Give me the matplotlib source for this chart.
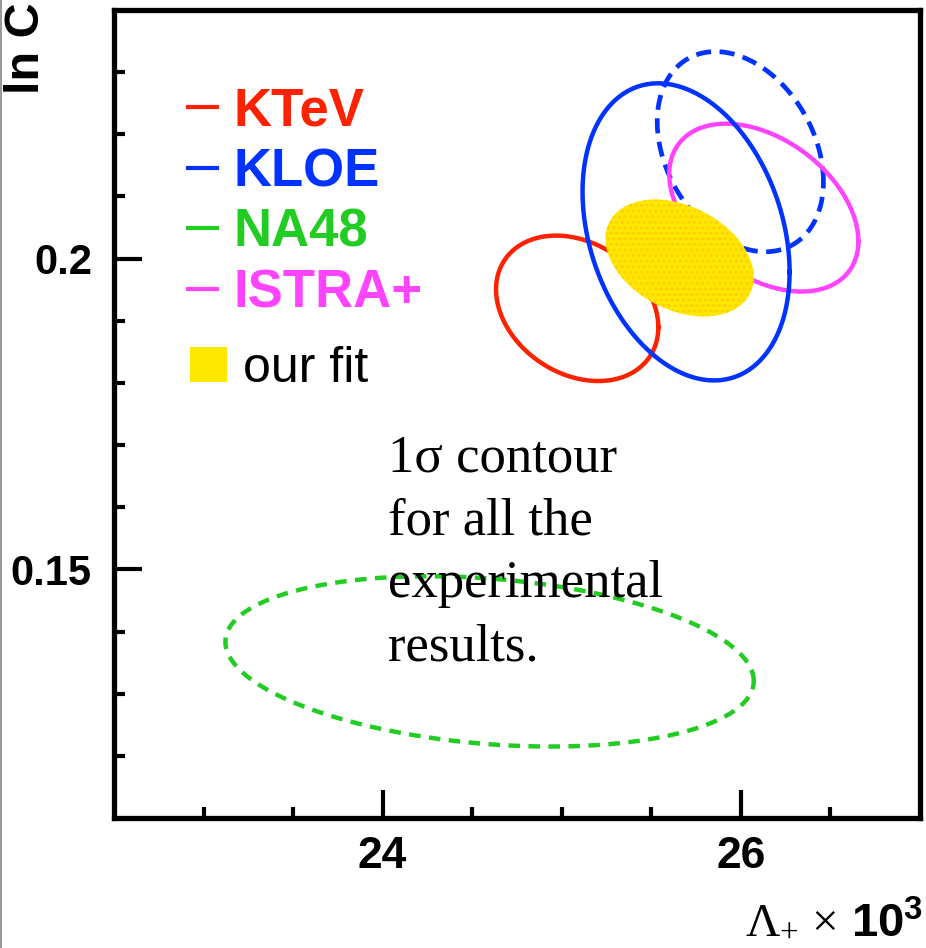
import matplotlib
matplotlib.use("Agg")
import matplotlib.pyplot as plt
import numpy as np
from matplotlib.lines import Line2D
from matplotlib.patches import Patch

# 1 sigma contours: centre, errors and correlation (Lambda_+ x 10^3, ln C)
exp_names = ["KTeV", "KLOE", "NA48", "ISTRA+"]
exp_colors = ["#ff2200", "#0033ff", "#22cc22", "#ff44ff"]
exp_styles = ["solid", "solid", "dashed", "solid"]
lam_center = [25.086, 25.694, 24.597, 26.128]
lam_sigma = [0.453, 0.578, 1.475, 0.528]
lnc_center = [0.1920, 0.2043, 0.1352, 0.2082]
lnc_sigma = [0.0117, 0.0239, 0.0137, 0.0135]
rho = [-0.26, -0.27, -0.23, -0.40]

# second KLOE contour (dashed blue)
kloe2 = dict(lam=25.997, lam_sig=0.464, lnc=0.2172, lnc_sig=0.0161, rho=-0.30)

# our fit
fit = dict(lam=25.658, lam_sig=0.414, lnc=0.2001, lnc_sig=0.0094, rho=-0.33)

note = "1\u03c3 contour\nfor all the\nexperimental\nresults."


def contour(cx, sx, cy, sy, r, n=400):
    t = np.linspace(0, 2 * np.pi, n)
    x = cx + sx * np.cos(t)
    y = cy + sy * (r * np.cos(t) + np.sqrt(1 - r ** 2) * np.sin(t))
    return x, y


plt.rcParams["font.family"] = ["Liberation Sans", "DejaVu Sans"]
plt.rcParams["mathtext.fontset"] = "custom"
plt.rcParams["mathtext.rm"] = "Liberation Serif"
plt.rcParams["mathtext.it"] = "Liberation Serif:italic"
plt.rcParams["mathtext.bf"] = "Liberation Sans:bold"
plt.rcParams["hatch.linewidth"] = 1.5

fig = plt.figure(figsize=(9.26, 9.48), dpi=100)
ax = fig.add_axes([0.1231, 0.1371, 0.8704, 0.8524])

# dashed KLOE contour
x, y = contour(kloe2["lam"], kloe2["lam_sig"], kloe2["lnc"], kloe2["lnc_sig"], kloe2["rho"])
ax.plot(x, y, color="#0033ff", lw=3.4, dashes=(3.2, 1.8), zorder=2)

for i in range(len(exp_names)):
    x, y = contour(lam_center[i], lam_sigma[i], lnc_center[i], lnc_sigma[i], rho[i])
    if exp_styles[i] == "dashed":
        ax.plot(x, y, color=exp_colors[i], lw=3.2, dashes=(2.6, 1.9), zorder=2)
    else:
        z = 4 if exp_names[i] == "KLOE" else 2
        ax.plot(x, y, color=exp_colors[i], lw=3.2, zorder=z)

x, y = contour(fit["lam"], fit["lam_sig"], fit["lnc"], fit["lnc_sig"], fit["rho"])
ax.fill(x, y, facecolor="#ffe800", edgecolor="none", zorder=3)
ax.fill(x, y, facecolor="none", edgecolor="#ffd000", hatch="...", lw=0, zorder=3)

ax.set_xlim(22.5, 27.0)
ax.set_ylim(0.11, 0.24)
ax.set_xticks([24, 26])
ax.set_xticks(np.arange(23, 27, 0.5), minor=True)
ax.set_yticks([0.15, 0.2])
ax.set_yticklabels(["0.15", "0.2"])
ax.set_yticks(np.arange(0.12, 0.24, 0.01), minor=True)
ax.tick_params(which="both", direction="in", top=False, right=False, width=3.0)
ax.tick_params(which="major", length=20)
ax.tick_params(which="minor", length=8)
ax.tick_params(axis="y", which="major", pad=16)
ax.tick_params(axis="x", which="major", pad=13)
for lab in ax.get_xticklabels():
    lab.set_fontsize(32)
    lab.set_fontweight("bold")
for lab in ax.get_yticklabels():
    lab.set_fontsize(30)
    lab.set_fontweight("bold")
for s in ax.spines.values():
    s.set_linewidth(3.8)

# legend of experiments
handles = [Line2D([], [], color=c, lw=3.0) for c in exp_colors]
leg = ax.legend(handles, exp_names, loc="upper left", bbox_to_anchor=(0.092, 0.905),
                frameon=False, borderpad=0, borderaxespad=0, handlelength=0.55,
                handletextpad=0.3, labelspacing=0.2,
                prop=dict(family="Liberation Sans", weight="bold", size=38))
for t, c in zip(leg.get_texts(), exp_colors):
    t.set_color(c)
ax.add_artist(leg)

leg2 = ax.legend([Patch(facecolor="#ffe800", edgecolor="none")], ["our fit"],
                 loc="upper left", bbox_to_anchor=(0.094, 0.584), frameon=False,
                 borderpad=0, borderaxespad=0, handlelength=0.74, handleheight=0.7,
                 handletextpad=0.32, prop=dict(family="Liberation Sans", size=36))

ax.text(0.340, 0.1955, note, transform=ax.transAxes, ha="left", va="baseline",
        family="Liberation Serif", fontsize=38, linespacing=1.4, zorder=5)

fig.text(0.9965, 0.0158, r"$\Lambda_{+}\,\times\,\mathbf{10^{3}}$", ha="right",
         va="baseline", fontsize=34)
fig.text(0.004, 0.997, "ln C", rotation=90, ha="left", va="top",
         fontsize=35, fontweight="bold")

fig.add_artist(Line2D([0.001, 0.001], [0, 1], color="#888888", lw=1.2,
                      transform=fig.transFigure))

fig.savefig("out.png", dpi=100)
